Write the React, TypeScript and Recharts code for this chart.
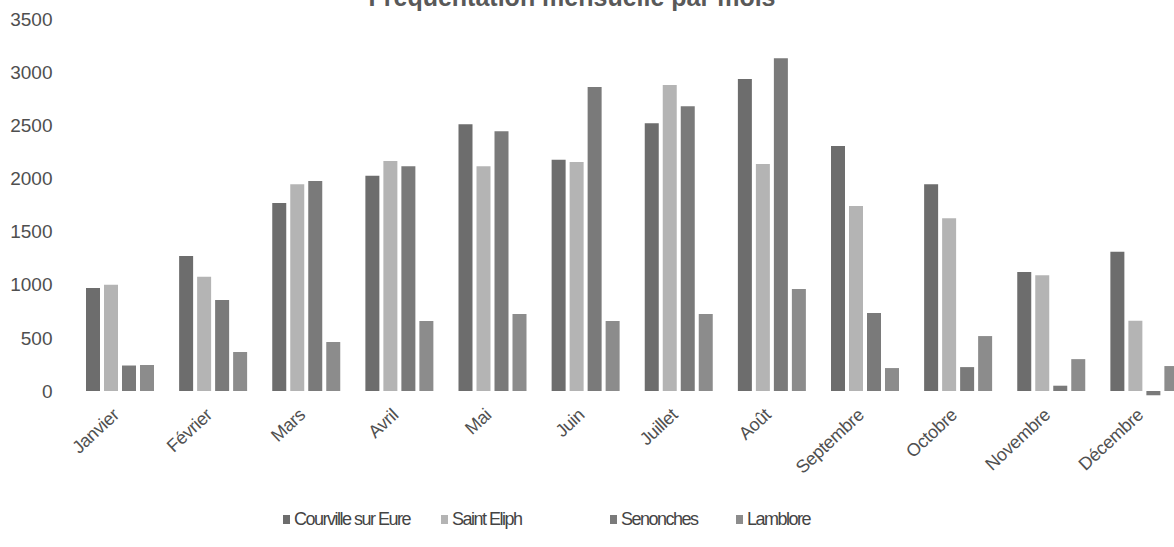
import { BarChart, Bar, XAxis, YAxis, Legend } from 'recharts'

const months = ['Janvier', 'Février', 'Mars', 'Avril', 'Mai', 'Juin', 'Juillet', 'Août', 'Septembre', 'Octobre', 'Novembre', 'Décembre']
const courville = [970, 1270, 1770, 2025, 2510, 2175, 2520, 2935, 2305, 1945, 1120, 1310]
const saintEliph = [1000, 1075, 1945, 2165, 2115, 2155, 2880, 2135, 1740, 1625, 1090, 660]
const senonches = [240, 856, 1975, 2115, 2445, 2860, 2680, 3130, 734, 225, 50, -40]
const lamblore = [245, 367, 461, 658, 724, 658, 724, 960, 216, 517, 300, 235]
const yTicks = [0, 500, 1000, 1500, 2000, 2500, 3000, 3500]

const series = [
    { key: 'courville', name: 'Courville sur Eure', color: '#6d6d6d' },
    { key: 'saintEliph', name: 'Saint Eliph', color: '#b4b4b4' },
    { key: 'senonches', name: 'Senonches', color: '#7a7a7a' },
    { key: 'lamblore', name: 'Lamblore', color: '#8c8c8c' },
]
// legend slot widths (px), as laid out in the original
const legendSlots = [158, 169, 126, 120]

const data = months.map((month, i) => ({
    month,
    courville: courville[i],
    saintEliph: saintEliph[i],
    senonches: senonches[i],
    lamblore: lamblore[i],
}))

const FONT = '"Liberation Sans", Arial, sans-serif'

function MonthTick({ x, y, payload }: any) {
    return (
        <g transform={`translate(${x + 1},${y + 19})`}>
            <text x={0} y={0} textAnchor="end" transform="rotate(-43)" fill="#505050" fontSize={18} fontFamily={FONT} letterSpacing={-0.3}>
                {payload.value}
            </text>
        </g>
    )
}

function LegendContent() {
    return (
        <div style={{ display: 'flex', fontFamily: FONT, fontSize: 18, letterSpacing: -1.5, color: '#444' }}>
            {series.map((s, i) => (
                <div key={s.key} style={{ display: 'flex', alignItems: 'center', width: legendSlots[i] }}>
                    <span style={{ width: 7, height: 9, background: s.color, marginRight: 4, display: 'inline-block' }} />
                    {s.name}
                </div>
            ))}
        </div>
    )
}

export default function App() {
    return (
        <div style={{ position: 'fixed', left: 0, top: 0, width: 1174, height: 547, overflow: 'hidden', background: '#fff' }}>
            <div style={{ position: 'absolute', top: -17.5, left: 0, width: 1144, textAlign: 'center', fontFamily: FONT, fontWeight: 'bold', fontSize: 25, color: '#595959' }}>
                Fréquentation mensuelle par mois
            </div>
            <BarChart
                width={1190}
                height={547}
                data={data}
                margin={{ top: 19, right: 0, bottom: 8, left: 0 }}
                barCategoryGap="14.5%"
                barGap={4}
            >
                <XAxis dataKey="month" axisLine={false} tickLine={false} tickSize={0} tickMargin={0} height={111.6} interval={0} tick={<MonthTick />} />
                <YAxis
                    width={72.5}
                    domain={[-60, 3500]}
                    ticks={yTicks}
                    axisLine={false}
                    tickLine={false}
                    tickSize={0}
                    tickMargin={20}
                    tick={{ fill: '#4f4f4f', fontSize: 19, fontFamily: FONT }}
                />
                <Legend verticalAlign="bottom" height={30} content={<LegendContent />} wrapperStyle={{ left: 283, width: 'auto' }} />
                {series.map(s => (
                    <Bar key={s.key} dataKey={s.key} name={s.name} fill={s.color} isAnimationActive={false} />
                ))}
            </BarChart>
        </div>
    )
}
